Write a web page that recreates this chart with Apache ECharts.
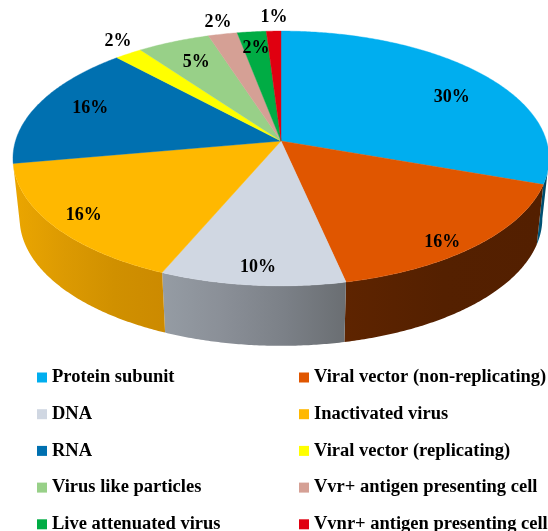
<!DOCTYPE html>
<html>
<head>
<meta charset="utf-8">
<style>
  html, body { margin: 0; padding: 0; background: #fff; }
  #chart { width: 548px; height: 531px; }
</style>
<script src="https://cdn.jsdelivr.net/npm/echarts@6/dist/echarts.min.js"></script>
</head>
<body>
<div id="chart"></div>
<script>
const categories = [
  'Protein subunit', 'Viral vector (non-replicating)', 'DNA', 'Inactivated virus', 'RNA',
  'Viral vector (replicating)', 'Virus like particles', 'Vvr+ antigen presenting cell',
  'Live attenuated virus', 'Vvnr+ antigen presenting cell'
]
const shares = [30.4, 16.2, 9.8, 15.8, 15.9, 1.9, 5, 2, 2, 1]

const colors = ['#00AEEF', '#E05600', '#D0D7E2', '#FFB800', '#0070B0', '#FFFF00', '#98D088', '#D5A095', '#00AC44', '#E00010']
const wallStops = [
  ['#005A80', '#00405C'],
  ['#5E2400', '#542000', '#531F00'],
  ['#959CA4', '#8A8F97', '#7B8087', '#6A6E72'],
  ['#EBA600', '#DC9A02', '#D09000', '#CC8A00'],
  ['#00456E', '#00456E'],
  ['#999900', '#999900'], ['#5E8054', '#5E8054'], ['#84635C', '#84635C'], ['#006A2A', '#006A2A'], ['#8A000A', '#8A000A']
]
// where the % label sits: fraction of the radius, degrees past the slice middle
const labelRadius = [0.77, 0.91, 0.89, 0.88, 0.795, 1.133, 0.775, 1.128, 0.835, 1.148]
const labelShift = [6.6, 4.5, -0.5, -0.2, 1.7, 1.9, 0.2, 0.4, 0, 0.3]

// perspective of the tilted disc
const CX = 281, CY = 141, RX = 265.5, RY = 125, PERSP = 0.137
const DEPTH = 60, SHRINK = 0.975
const WALL_FROM = 98, WALL_TO = 260

function project(deg, r) {
  const t = deg * Math.PI / 180
  const u = r * Math.sin(t), v = r * Math.cos(t)
  const w = 1 + PERSP * v
  return [CX + RX * u / w, CY - RY * v / w]
}

function lower(p) {
  return [CX + (p[0] - CX) * SHRINK, p[1] + DEPTH]
}

function arc(from, to) {
  const pts = []
  const n = Math.max(2, Math.ceil((to - from) * 2))
  for (let i = 0; i <= n; i++) pts.push(project(from + (to - from) * i / n, 1))
  return pts
}

let running = 0
const starts = shares.map(s => { const a = running; running += s; return a })
const total = running

const series = categories.map((name, i) => ({
  type: 'custom',
  name: name,
  coordinateSystem: 'none',
  silent: true,
  itemStyle: { color: colors[i] },
  data: [[shares[i], starts[i]]],
  renderItem: (params, api) => {
    const from = api.value(1) / total * 360
    const to = from + api.value(0) / total * 360
    const children = []

    const wa = Math.max(from, WALL_FROM), wb = Math.min(to, WALL_TO)
    if (wb > wa) {
      const rim = arc(wa, wb)
      const stops = wallStops[i].map((c, k, all) => ({ offset: k / (all.length - 1), color: c }))
      children.push({
        type: 'polygon',
        z2: 1 + i,
        shape: { points: rim.concat(rim.map(lower).reverse()) },
        style: { fill: new echarts.graphic.LinearGradient(0, 0, 1, 0, stops) }
      })
    }

    children.push({
      type: 'polygon',
      z2: 20,
      shape: { points: [[CX, CY]].concat(arc(from, to)) },
      style: { fill: colors[i], stroke: colors[i], lineWidth: 0.4 }
    })

    const pos = project((from + to) / 2 + labelShift[i], labelRadius[i])
    children.push({
      type: 'text',
      z2: 30,
      x: pos[0],
      y: pos[1],
      style: {
        text: Math.round(api.value(0)) + '%',
        fill: '#000',
        font: 'bold 18px "Liberation Serif"',
        align: 'center',
        verticalAlign: 'middle'
      }
    })
    return { type: 'group', children: children }
  }
}))

const legendBase = {
  orient: 'vertical',
  top: 363,
  height: 180,
  icon: 'rect',
  itemWidth: 10,
  itemHeight: 10,
  itemGap: 17.7,
  selectedMode: false,
  textStyle: { fontFamily: 'Liberation Serif', fontWeight: 'bold', fontSize: 18.5, color: '#000', lineHeight: 18.5 }
}

const chart = echarts.init(document.getElementById('chart'))
chart.setOption({
  animation: false,
  backgroundColor: '#fff',
  legend: [
    Object.assign({}, legendBase, { left: 32, data: categories.filter((c, i) => i % 2 === 0) }),
    Object.assign({}, legendBase, { left: 294, data: categories.filter((c, i) => i % 2 === 1) })
  ],
  series: series
})
</script>
</body>
</html>
